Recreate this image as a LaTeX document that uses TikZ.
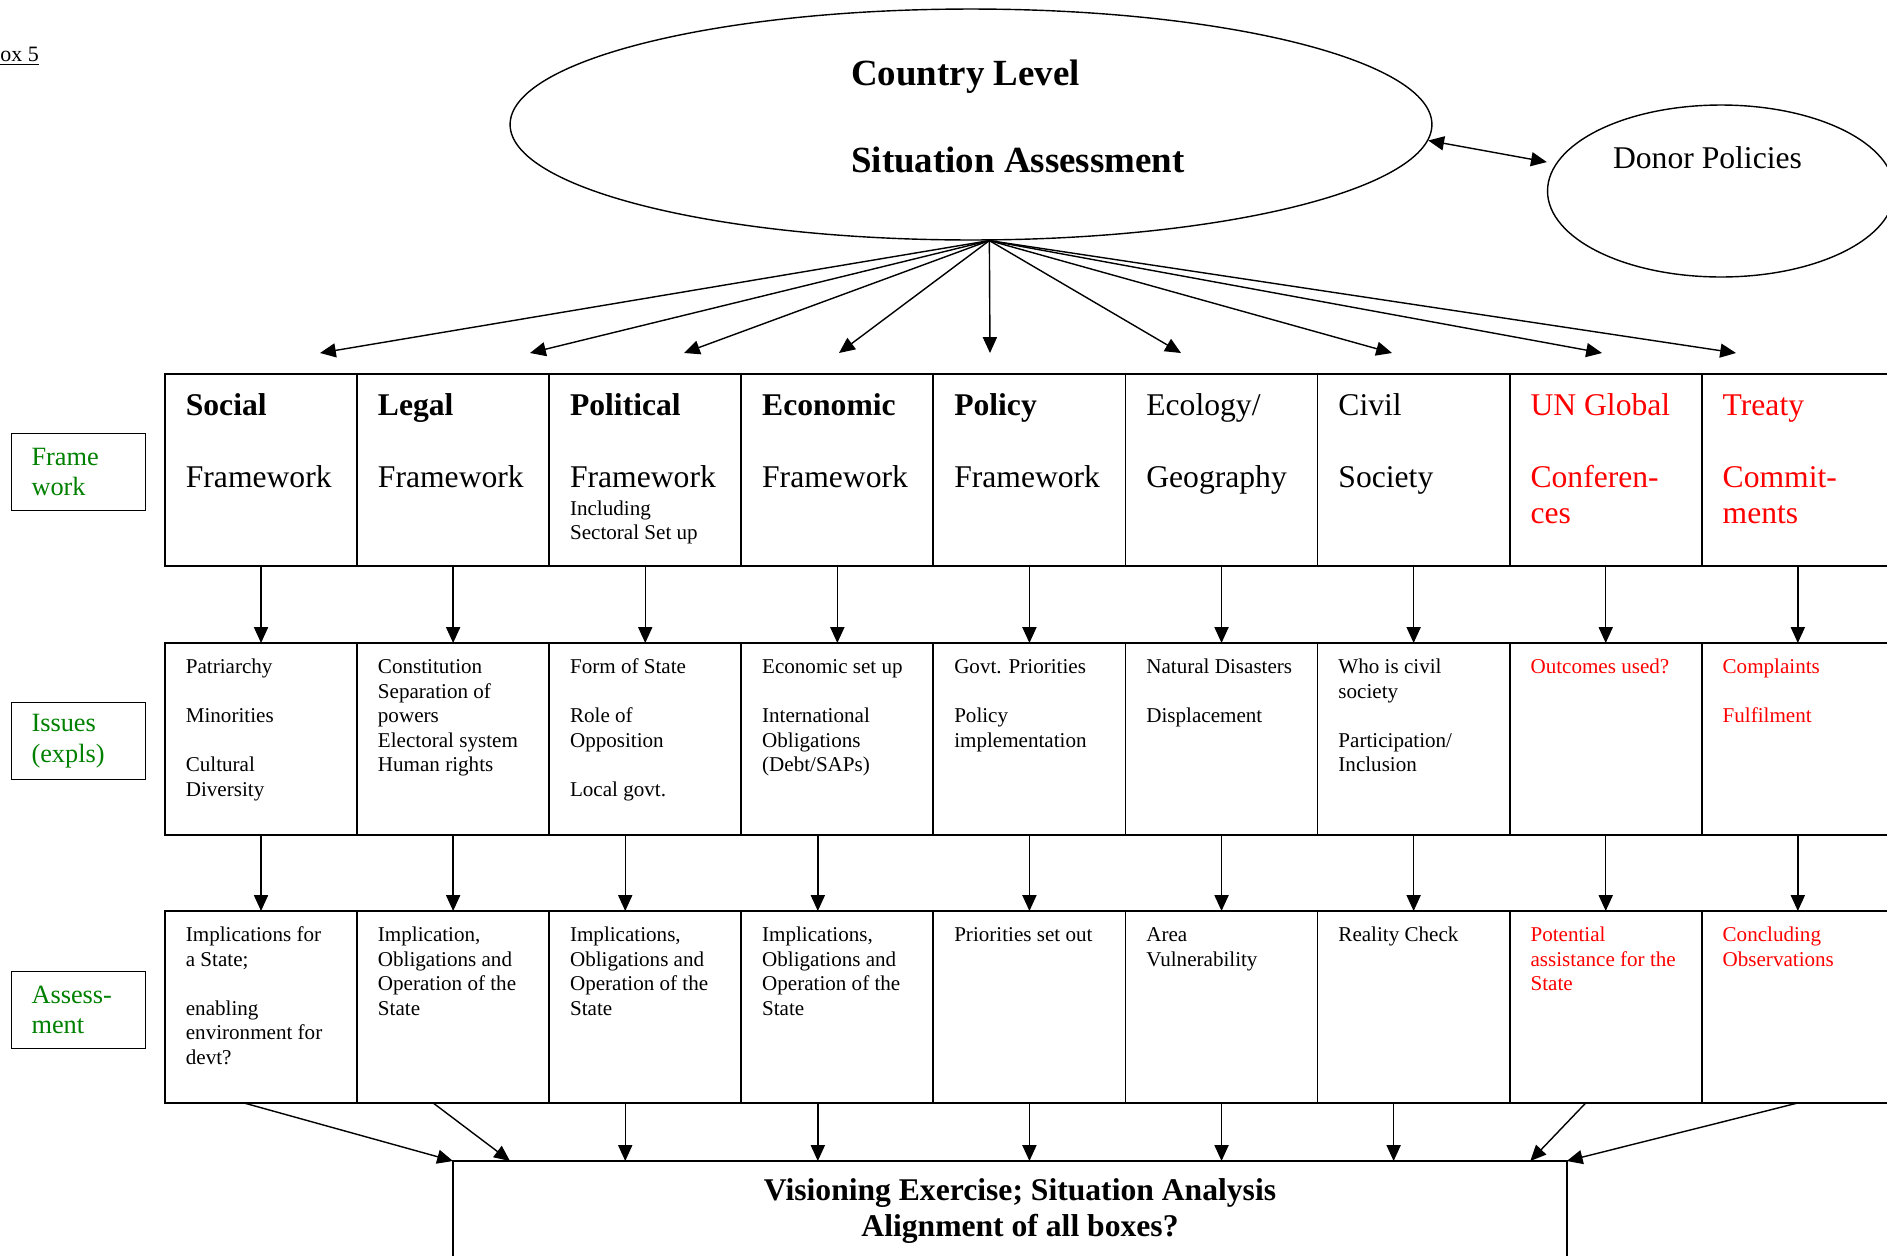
\documentclass[tikz,border=0pt]{standalone}
\usepackage{fontspec}
\setmainfont{Liberation Serif}
\usetikzlibrary{arrows.meta,calc,shapes.geometric}
\definecolor{labgreen}{RGB}{0,128,0}
% lines of a box, the first baseline being the node's baseline
\newcommand{\cellrows}[1]{\begin{tabular}[t]{@{}l@{}}#1\end{tabular}}

\begin{document}
\begin{tikzpicture}[x=0.02cm,y=-0.02cm,>={Triangle[length=9pt,width=8pt]},
    cell/.style={draw,line width=1pt,minimum width=3.842cm,minimum height=3.84cm,inner sep=0,outer sep=0,anchor=north west},
    oval/.style={draw,ellipse,line width=0.8pt,inner sep=0},
    rowlab/.style={draw,line width=1pt,text=labgreen,align=left,text width=1.88cm,inner xsep=0.4cm,minimum height=1.54cm,font=\fontsize{15}{17.5}\selectfont},
    bigtxt/.style={anchor=base west,inner sep=0,font=\fontsize{18}{20.5}\selectfont},
    smalltxt/.style={anchor=base west,inner sep=0,font=\fontsize{12}{14}\selectfont},
    conn/.style={->,line width=0.8pt}]
    \useasboundingbox (0,0) rectangle (1887,1255);
    \clip (0,0) rectangle (1887,1255);

    \node[anchor=base west,inner sep=0,font=\fontsize{12.5}{15}\selectfont] (boxno) at (-14.7,61.7) {\underline{Box 5}};

    % the two ovals
    \node[oval,minimum width=18.44cm,minimum height=4.62cm] (sa) at (971,124.5) {};
    \node[anchor=base west,align=left,inner sep=0,font=\fontsize{21}{24.75}\selectfont\bfseries] (satxt) at (851,172) {Country Level\\[24.75pt]Situation Assessment};
    \node[oval,minimum width=6.94cm,minimum height=3.44cm] (dp) at (1721,191) {};
    \node[anchor=base,inner sep=0,font=\fontsize{18}{21}\selectfont] (dptxt) at (1707.5,168) {Donor Policies};
    \draw[<->,line width=0.8pt] (sa.-2) -- ([xshift=-0.2cm]dp.170);

    % row labels
    \node[rowlab] (labf) at (78.5,472) {Frame\\work};
    \node[rowlab] (labi) at (78.5,741) {Issues\\(expls)};
    \node[rowlab] (laba) at (78.5,1010) {Assess-\\ment};

    % the three rows of boxes
    \foreach \i in {1,...,9} {
        \node[cell] (f\i) at ({165+(\i-1)*192.1},374) {};
        \node[cell] (i\i) at ({165+(\i-1)*192.1},643) {};
        \node[cell] (a\i) at ({165+(\i-1)*192.1},911) {};
    }

    % fan out of the oval
    \coordinate (apex) at (sa.-81);
    \foreach \x [count=\i] in {320,530,684,839,990,1181,1392,1602,1736}
        \coordinate (t\i) at (\x,353);
    \foreach \i in {1,...,9}
        \draw[conn] (apex) -- (t\i);

    % framework row
    \node[bigtxt] (f1t) at ($(f1.north west)+(20.5,41)$) {\cellrows{\textbf{Social}\\[20.5pt]Framework}};
    \node[bigtxt] (f2t) at ($(f2.north west)+(20.5,41)$) {\cellrows{\textbf{Legal}\\[20.5pt]Framework}};
    \node[bigtxt] (f3t) at ($(f3.north west)+(20.5,41)$) {\cellrows{\textbf{Political}\\[20.5pt]Framework}};
    \node[smalltxt] (f3sub) at ($(f3.north west)+(20.5,141)$) {\cellrows{Including\\Sectoral Set up}};
    \node[bigtxt] (f4t) at ($(f4.north west)+(20.5,41)$) {\cellrows{\textbf{Economic}\\[20.5pt]Framework}};
    \node[bigtxt] (f5t) at ($(f5.north west)+(20.5,41)$) {\cellrows{\textbf{Policy}\\[20.5pt]Framework}};
    \node[bigtxt] (f6t) at ($(f6.north west)+(20.5,41)$) {\cellrows{Ecology/\\[20.5pt]Geography}};
    \node[bigtxt] (f7t) at ($(f7.north west)+(20.5,41)$) {\cellrows{Civil\\[20.5pt]Society}};
    \node[bigtxt,text=red] (f8t) at ($(f8.north west)+(20.5,41)$) {\cellrows{UN Global\\[20.5pt]Conferen-\\ces}};
    \node[bigtxt,text=red] (f9t) at ($(f9.north west)+(20.5,41)$) {\cellrows{Treaty\\[20.5pt]Commit-\\ments}};

    % issues row
    \node[smalltxt] (i1t) at ($(i1.north west)+(20.5,30.5)$) {\cellrows{Patriarchy\\[14pt]Minorities\\[14pt]Cultural\\Diversity}};
    \node[smalltxt] (i2t) at ($(i2.north west)+(20.5,30.5)$) {\cellrows{Constitution\\Separation of\\powers\\Electoral system\\Human rights}};
    \node[smalltxt] (i3t) at ($(i3.north west)+(20.5,30.5)$) {\cellrows{Form of State\\[14pt]Role of\\Opposition\\[14pt]Local govt.}};
    \node[smalltxt] (i4t) at ($(i4.north west)+(20.5,30.5)$) {\cellrows{Economic set up\\[14pt]International\\Obligations\\(Debt/SAPs)}};
    \node[smalltxt] (i5t) at ($(i5.north west)+(20.5,30.5)$) {\cellrows{Govt. Priorities\\[14pt]Policy\\implementation}};
    \node[smalltxt] (i6t) at ($(i6.north west)+(20.5,30.5)$) {\cellrows{Natural Disasters\\[14pt]Displacement}};
    \node[smalltxt] (i7t) at ($(i7.north west)+(20.5,30.5)$) {\cellrows{Who is civil\\society\\[14pt]Participation/\\Inclusion}};
    \node[smalltxt,text=red] (i8t) at ($(i8.north west)+(20.5,30.5)$) {\cellrows{Outcomes used?}};
    \node[smalltxt,text=red] (i9t) at ($(i9.north west)+(20.5,30.5)$) {\cellrows{Complaints\\[14pt]Fulfilment}};

    % assessment row
    \node[smalltxt] (a1t) at ($(a1.north west)+(20.5,30.5)$) {\cellrows{Implications for\\a State;\\[14pt]enabling\\environment for\\devt?}};
    \node[smalltxt] (a2t) at ($(a2.north west)+(20.5,30.5)$) {\cellrows{Implication,\\Obligations and\\Operation of the\\State}};
    \node[smalltxt] (a3t) at ($(a3.north west)+(20.5,30.5)$) {\cellrows{Implications,\\Obligations and\\Operation of the\\State}};
    \node[smalltxt] (a4t) at ($(a4.north west)+(20.5,30.5)$) {\cellrows{Implications,\\Obligations and\\Operation of the\\State}};
    \node[smalltxt] (a5t) at ($(a5.north west)+(20.5,30.5)$) {\cellrows{Priorities set out}};
    \node[smalltxt] (a6t) at ($(a6.north west)+(20.5,30.5)$) {\cellrows{Area\\Vulnerability}};
    \node[smalltxt] (a7t) at ($(a7.north west)+(20.5,30.5)$) {\cellrows{Reality Check}};
    \node[smalltxt,text=red] (a8t) at ($(a8.north west)+(20.5,30.5)$) {\cellrows{Potential\\assistance for the\\State}};
    \node[smalltxt,text=red] (a9t) at ($(a9.north west)+(20.5,30.5)$) {\cellrows{Concluding\\Observations}};

    % down the columns
    \foreach \i in {1,...,9}
        \draw[conn] (f\i.south) -- (i\i.north);
    \foreach \i/\dx in {1/0,2/0,3/-20,4/-19.5,5/0,6/0,7/0,8/0,9/0}
        \draw[conn] ($(i\i.south)+(\dx,0)$) -- ($(a\i.north)+(\dx,0)$);

    % visioning box
    \node[draw,line width=1pt,minimum width=22.28cm,minimum height=3cm,inner sep=0,outer sep=0,anchor=north west] (vis) at (453,1161) {};
    \node[anchor=base,align=center,inner sep=0,font=\fontsize{18}{20}\selectfont\bfseries] (vistxt) at (1020,1236) {Visioning Exercise; Situation Analysis\\Alignment of all boxes?};

    \draw[conn] ($(a1.south)+(-17,0)$) -- (vis.north west);
    \draw[conn] ($(a2.south)+(-20,0)$) -- ($(vis.north west)+(57,0)$);
    \foreach \i/\dx in {3/-20,4/-19.5,5/0,6/0,7/-20} {
        \coordinate (s\i) at ($(a\i.south)+(\dx,0)$);
        \draw[conn] (s\i) -- (s\i |- vis.north);
    }
    \draw[conn] ($(a8.south)+(-20,0)$) -- ($(vis.north east)+(-36.5,0)$);
    \draw[conn] (a9.south) -- (vis.north east);
\end{tikzpicture}
\end{document}
